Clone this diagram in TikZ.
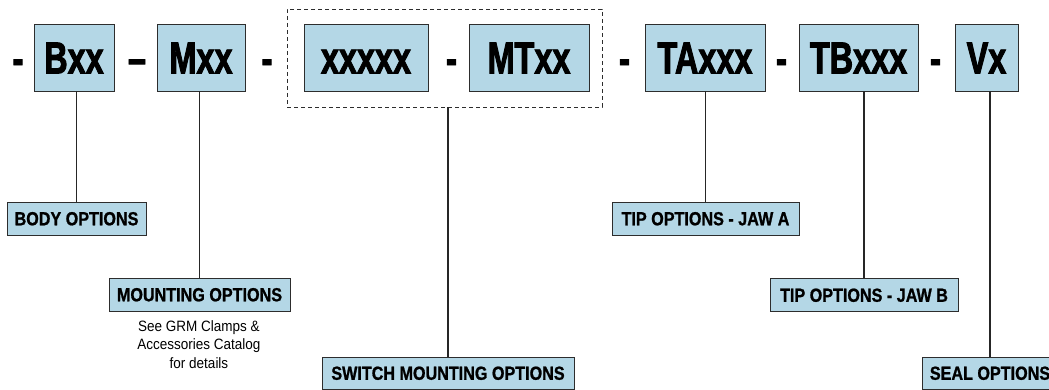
\documentclass[tikz,border=0pt]{standalone}
\usepackage{fontspec}
\newfontfamily\bigf[FakeStretch=0.72,FakeBold=2]{Liberation Sans}
\newfontfamily\labf[FakeStretch=0.85,FakeBold=1]{Liberation Sans}
\newfontfamily\notef[FakeStretch=0.9]{Liberation Sans}
\definecolor{boxblue}{RGB}{180,215,230}
\definecolor{boxline}{RGB}{45,45,45}
\tikzset{
  codebox/.style={draw=boxline, line width=0.9pt, fill=boxblue, inner sep=0pt,
    minimum height=67pt, text height=32pt, text depth=0pt,
    font=\bigf\bfseries\fontsize{45}{50}\selectfont},
  sep/.style={inner sep=0pt, anchor=base, font=\bigf\bfseries\fontsize{45}{50}\selectfont},
  labbox/.style={draw=boxline, line width=0.9pt, fill=boxblue, inner sep=0pt,
    minimum height=33pt, text height=13.6pt, text depth=0pt,
    font=\labf\bfseries\fontsize{19}{22}\selectfont},
  grp/.style={draw=boxline, line width=0.9pt, dash pattern=on 4pt off 3pt},
  conn/.style={draw=black!85, line width=1.1pt},
  note/.style={align=center, inner sep=0pt, font=\notef\fontsize{15}{18.5}\selectfont}
}
\begin{document}
\begin{tikzpicture}[x=1pt,y=-1pt]
\useasboundingbox (0,0) rectangle (1049,390);
\clip (0,0) rectangle (1049,390);
% top code boxes
\node[codebox, minimum width=80pt]  (b)  at (74,57.5)   {Bxx};
\node[codebox, minimum width=88pt]  (m)  at (201,57.5)  {Mxx};
\node[codebox, minimum width=124pt] (s)  at (366,57.5)  {xxxxx};
\node[codebox, minimum width=120pt] (mt) at (529,57.5)  {MTxx};
\node[codebox, minimum width=120pt] (ta) at (705,57.5)  {TAxxx};
\node[codebox, minimum width=119pt] (tb) at (858.5,57.5){TBxxx};
\node[codebox, minimum width=63pt]  (v)  at (986.5,57.5){Vx};
% dashed group
\node[grp, minimum width=315pt, minimum height=98pt, inner sep=0pt] (g) at (444.5,58) {};
% separators
\node[sep] (d1) at (18,74) {-};
\node[sep] (d2) at (137,74) {–};
\node[sep] (d3) at (267,74) {-};
\node[sep] (d4) at (451.5,74) {-};
\node[sep] (d5) at (624.5,74) {-};
\node[sep] (d6) at (781.5,74) {-};
\node[sep] (d7) at (935.5,74) {-};
% labels
\node[labbox, minimum width=139pt] (lb)  at (76.5,218.5) {BODY OPTIONS};
\node[labbox, minimum width=181pt] (lm)  at (199.5,294.5) {MOUNTING OPTIONS};
\node[labbox, minimum width=252pt, minimum height=32pt] (ls) at (448,373) {SWITCH MOUNTING OPTIONS};
\node[labbox, minimum width=187pt] (lta) at (705.5,218.5) {TIP OPTIONS - JAW A};
\node[labbox, minimum width=188pt] (ltb) at (864,295) {TIP OPTIONS - JAW B};
\node[labbox, minimum width=136pt, minimum height=32pt] (lv) at (990,373) {SEAL OPTIONS};
\node[note, anchor=north] (n) at (199,320) {See GRM Clamps \&\\Accessories Catalog\\for details};
% connectors
\draw[conn] (lb.north) -- (lb.north |- b.south);
\draw[conn] (lm.north) -- (lm.north |- m.south);
\draw[conn] (ls.north) -- (ls.north |- g.south);
\draw[conn] (lta.north) -- (lta.north |- ta.south);
\draw[conn] (ltb.north) -- (ltb.north |- tb.south);
\draw[conn] (lv.north) -- (lv.north |- v.south);
\end{tikzpicture}
\end{document}
